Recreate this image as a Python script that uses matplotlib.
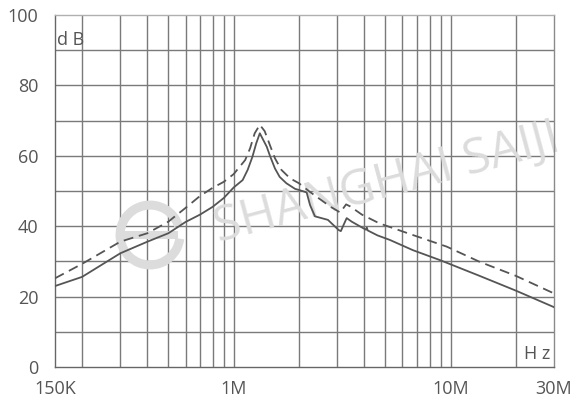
import matplotlib.pyplot as plt
from matplotlib.patches import Arc, Rectangle
from matplotlib.ticker import FixedLocator, NullFormatter, NullLocator

# frequency in MHz, attenuation in dB
solid_f = [0.15, 0.2, 0.3, 0.4, 0.5, 0.6, 0.7, 0.8, 0.9, 1.0, 1.1, 1.16, 1.22, 1.27,
           1.32, 1.42, 1.47, 1.55, 1.63, 1.75, 1.92, 2.0, 2.17, 2.25, 2.37, 2.72, 3.05, 3.12,
           3.22, 3.32, 3.5, 3.94, 4.08, 4.11, 4.15, 4.6, 5.25, 6.7, 9.0, 13.6, 20.0, 30.0]
solid_db = [23.0, 25.6, 32.3, 35.6, 38.0, 41.2, 43.3, 45.5, 48.0, 51.0, 53.1, 56.0, 59.7, 63.5,
            66.4, 62.6, 60.0, 56.4, 54.0, 52.2, 50.6, 50.3, 49.6, 46.0, 42.8, 41.8, 38.9, 38.6,
            40.5, 42.3, 41.3, 39.5, 39.0, 39.6, 38.8, 37.4, 36.1, 33.2, 30.3, 25.9, 21.7, 17.0]

dash_f = [0.15, 0.2, 0.3, 0.4, 0.5, 0.6, 0.7, 0.8, 0.9, 1.0, 1.13, 1.19, 1.25,
          1.32, 1.39, 1.47, 1.55, 1.66, 1.82, 2.0, 2.24, 2.8, 3.1, 3.3, 3.45, 3.9,
          4.7, 6.7, 9.6, 13.6, 20.0, 30.0]
dash_db = [25.2, 29.3, 35.6, 38.0, 41.3, 45.2, 48.6, 50.9, 52.6, 54.8, 58.8, 62.1, 66.4,
           68.8, 67.0, 63.0, 59.3, 56.0, 53.6, 52.2, 49.8, 45.5, 43.9, 46.2, 45.6, 43.3,
           40.8, 37.5, 34.2, 29.9, 25.9, 20.9]

y_ticks = [0, 20, 40, 60, 80, 100]
x_ticks = [0.15, 1, 10, 30]
x_labels = ['150K', '1M', '10M', '30M']

plt.rcParams['font.family'] = ['Open Sans', 'DejaVu Sans']

fig = plt.figure(figsize=(5.72, 4.05), dpi=100)
ax = fig.add_axes([55 / 572, 38 / 405, 499 / 572, 352 / 405])
ax.set_xscale('log')
ax.set_xlim(0.15, 30)
ax.set_ylim(0, 100)

# grid: every 10 dB, every 1-9 step of each decade
grid_c = '#7a7a7a'
for y in range(10, 100, 10):
    ax.axhline(y, color=grid_c, lw=1.0, zorder=1)
vlines = [m * d for d in (0.1, 1, 10) for m in range(1, 10)]
for x in vlines:
    if 0.15 < x < 30:
        ax.axvline(x, color=grid_c, lw=1.0, zorder=1)

# watermark
wm = '#dcdcdc'
ax.text(0.665, 0.52, 'SHANGHAI SAIJI', transform=ax.transAxes, fontsize=35,
        color=wm, rotation=15, ha='center', va='center', zorder=2)
logo_x, logo_y = 95 / 499, (367 - 235) / 352
ax.add_patch(Arc((logo_x, logo_y), 0.12, 0.17, theta1=25, theta2=350,
                 transform=ax.transAxes, color=wm, lw=6.5, zorder=2))
ax.add_patch(Rectangle((logo_x - 0.054, logo_y - 0.012), 0.11, 0.024,
                       transform=ax.transAxes, color=wm, lw=0, zorder=2))

ax.plot(solid_f, solid_db, color='#555555', lw=1.3, zorder=3)
ax.plot(dash_f, dash_db, color='#555555', lw=1.3, ls=(0, (5.5, 3.2)), zorder=3)

ax.xaxis.set_major_locator(FixedLocator(x_ticks))
ax.xaxis.set_minor_locator(NullLocator())
ax.xaxis.set_minor_formatter(NullFormatter())
ax.set_xticks(x_ticks)
ax.set_xticklabels(x_labels)
ax.set_yticks(y_ticks)
ax.tick_params(length=0, labelsize=13, colors='#555555')
ax.tick_params(axis='y', pad=12)
ax.tick_params(axis='x', pad=9)

for s in ax.spines.values():
    s.set_color('#8a8a8a')
    s.set_linewidth(1.0)
ax.spines['left'].set_color('#666666')
ax.spines['bottom'].set_color('#666666')
ax.spines['top'].set_color('#b0b0b0')

ax.text(0.004, 0.955, 'd B', transform=ax.transAxes, fontsize=13,
        color='#555555', ha='left', va='top', zorder=4)
ax.text(0.992, 0.01, 'H z', transform=ax.transAxes, fontsize=13,
        color='#555555', ha='right', va='bottom', zorder=4)

fig.savefig('out.png', dpi=100)
